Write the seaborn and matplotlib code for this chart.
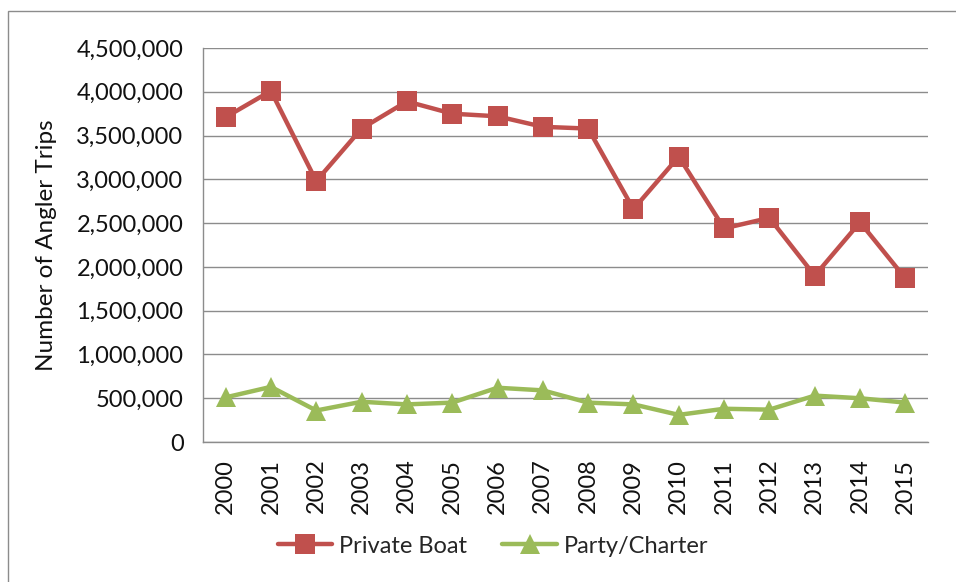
import pandas as pd
import matplotlib.pyplot as plt
import seaborn as sns
from matplotlib.patches import Rectangle
from matplotlib.ticker import FuncFormatter, MultipleLocator

sns.set_style("white")
plt.rcParams['font.family'] = ['Lato', 'DejaVu Sans']

# Values
years = list(range(2000, 2016))
private_boat = [3710000, 4010000, 2980000, 3580000, 3890000, 3750000, 3720000, 3600000,
                3580000, 2660000, 3260000, 2440000, 2560000, 1900000, 2510000, 1870000]
party_charter = [510000, 630000, 360000, 460000, 430000, 450000, 620000, 590000,
                 450000, 430000, 310000, 380000, 370000, 530000, 500000, 450000]

df = pd.DataFrame({
    'year': years * 2,
    'trips': private_boat + party_charter,
    'mode': ['Private Boat'] * len(years) + ['Party/Charter'] * len(years),
})

palette = {'Private Boat': '#C0504D', 'Party/Charter': '#9BBB59'}
markers = {'Private Boat': 's', 'Party/Charter': '^'}

fig = plt.figure(figsize=(9.56, 5.82), dpi=100)
ax = fig.add_axes([0.2123, 0.2405, 0.7584, 0.677])

sns.lineplot(data=df, x='year', y='trips', hue='mode', style='mode', palette=palette,
             markers=markers, dashes=False, linewidth=3.2, markersize=15,
             markeredgewidth=0, ax=ax)

# Axes
ax.set_xlim(1999.5, 2015.5)
ax.set_ylim(0, 4500000)
ax.yaxis.set_major_locator(MultipleLocator(500000))
ax.yaxis.set_major_formatter(FuncFormatter(lambda v, p: f'{int(v):,}'))
ax.set_xticks(years)
ax.set_xticklabels([str(y) for y in years], rotation=90)
ax.set_xticks([y + 0.5 for y in [1999] + years], minor=True)
ax.tick_params(axis='x', which='major', length=0, pad=12, labelsize=17, labelcolor='#111111')
ax.tick_params(axis='x', which='minor', length=7, width=1, color='#8c8c8c', direction='out')
ax.tick_params(axis='y', length=8, width=1, color='#8c8c8c', direction='out', labelsize=17,
               labelcolor='#111111', pad=6)

ax.grid(axis='y', color='#8c8c8c', linewidth=1)
ax.set_axisbelow(True)
for side in ['top', 'right']:
    ax.spines[side].set_visible(False)
for side in ['left', 'bottom']:
    ax.spines[side].set_color('#8c8c8c')
    ax.spines[side].set_linewidth(1)

ax.set_xlabel('')
ax.set_ylabel('Number of Angler Trips', fontsize=17.5, color='#111111')
ax.yaxis.set_label_coords(-0.201, 0.5)

# Legend below the plot
handles, labels = ax.get_legend_handles_labels()
ax.legend(handles, labels, loc='center', bbox_to_anchor=(0.40, -0.264), ncol=2,
          frameon=False, fontsize=17, handlelength=2.3, handletextpad=0.3, columnspacing=1.5)

# Outer chart border
fig.patches.append(Rectangle((8 / 956, -0.05), 1.0, 1.05 - 11 / 582, transform=fig.transFigure,
                             fill=False, edgecolor='#8c8c8c', linewidth=1))

plt.savefig('out.png', dpi=100)
